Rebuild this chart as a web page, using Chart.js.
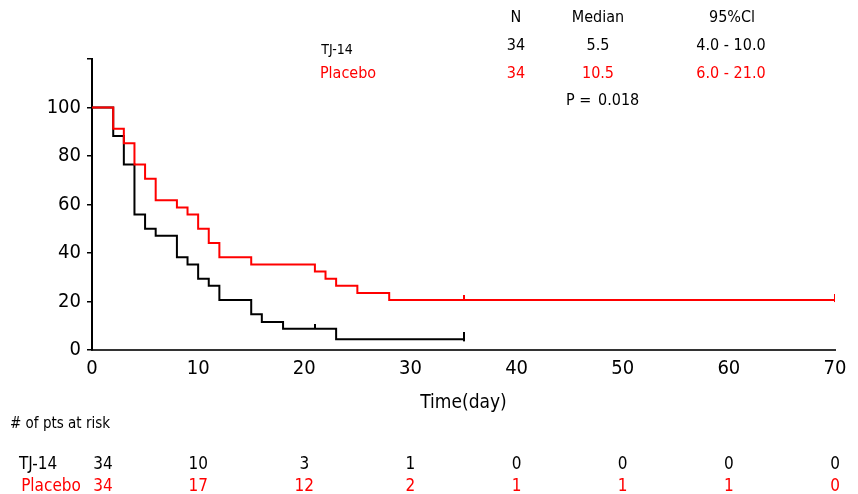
<!DOCTYPE html>
<html>
<head>
<meta charset="utf-8">
<script src="https://cdn.jsdelivr.net/npm/chart.js@4/dist/chart.umd.min.js"></script>
<style>
  html, body { margin: 0; padding: 0; background: #fff; }
  #wrap { width: 858px; height: 494px; position: relative; }
</style>
</head>
<body>
<div id="wrap"><canvas id="km"></canvas></div>
<script>
const FONT = "'Liberation Sans Narrow', 'DejaVu Sans Condensed', 'Liberation Sans', sans-serif";

// Kaplan-Meier steps (day, % event free)
const tjDays = [0, 2, 3, 4, 5, 6, 8, 9, 10, 11, 12, 15, 16, 18, 23, 35];
const tjSurv = [100, 88.2, 76.5, 55.9, 50.0, 47.1, 38.2, 35.3, 29.4, 26.5, 20.6, 14.7, 11.5, 8.8, 4.4, 4.4];
const plDays = [0, 2, 3, 4, 5, 6, 8, 9, 10, 11, 12, 15, 21, 22, 23, 25, 28, 70];
const plSurv = [100, 91.2, 85.3, 76.5, 70.6, 61.8, 58.8, 55.9, 50.0, 44.1, 38.2, 35.3, 32.4, 29.4, 26.5, 23.5, 20.6, 20.6];

// censor marks
const tjCensDays = [21, 35];
const tjCensSurv = [8.8, 4.4];
const plCensDays = [35, 70];
const plCensSurv = [20.6, 20.6];

// numbers at risk
const riskDays = [0, 10, 20, 30, 40, 50, 60, 70];
const riskTJ = [34, 10, 3, 1, 0, 0, 0, 0];
const riskPlacebo = [34, 17, 12, 2, 1, 1, 1, 0];

const xTicks = [0, 10, 20, 30, 40, 50, 60, 70];
const yTicks = [0, 20, 40, 60, 80, 100];

// summary table
const groups = ['TJ-14', 'Placebo'];
const groupN = [34, 34];
const groupMedian = ['5.5', '10.5'];
const groupCI = ['4.0 - 10.0', '6.0 - 21.0'];
const pValue = '0.018';

const RED = '#ff0000';
const BLACK = '#000000';

function tickMark(color, up, down) {
  const c = document.createElement('canvas');
  const h = Math.max(up, down) * 2;
  c.width = 2; c.height = h;
  const g = c.getContext('2d');
  g.fillStyle = color;
  g.fillRect(0, h / 2 - up, 2, up + down);
  return c;
}

const toXY = (xs, ys) => xs.map((x, i) => ({ x: x, y: ys[i] }));

const textPlugin = {
  id: 'kmText',
  afterDraw(chart) {
    const ctx = chart.ctx;
    const xs = chart.scales.x;
    ctx.save();
    ctx.textBaseline = 'middle';
    ctx.textAlign = 'center';
    const colors = [BLACK, RED];

    // header table
    ctx.font = '16px ' + FONT;
    ctx.fillStyle = BLACK;
    ctx.fillText('N', 516, 18);
    ctx.fillText('Median', 598, 18);
    ctx.fillText('95%Cl', 732, 18);
    const rowY = [46, 74];
    groups.forEach((g, i) => {
      ctx.fillStyle = colors[i];
      ctx.font = (i === 0 ? '14px ' : '16px ') + FONT;
      ctx.fillText(g, i === 0 ? 337 : 348, rowY[i] + (i === 0 ? 4 : 0));
      ctx.font = '16px ' + FONT;
      ctx.fillText(String(groupN[i]), 516, rowY[i]);
      ctx.fillText(groupMedian[i], 598, rowY[i]);
      ctx.fillText(groupCI[i], 731, rowY[i]);
    });
    ctx.fillStyle = BLACK;
    ctx.textAlign = 'left';
    ctx.fillText('P =', 566, 101);
    ctx.fillText(pValue, 598, 101);

    // at-risk table
    ctx.font = '15px ' + FONT;
    ctx.fillText('# of pts at risk', 10, 424);
    const riskRows = [riskTJ, riskPlacebo];
    const riskY = [465, 487];
    ctx.font = '17px ' + FONT;
    riskRows.forEach((row, r) => {
      ctx.fillStyle = colors[r];
      ctx.textAlign = 'center';
      ctx.fillText(groups[r], r === 0 ? 38 : 51, riskY[r]);
      row.forEach((v, i) => {
        let px = xs.getPixelForValue(riskDays[i]);
        if (i === 0) px += 11;
        ctx.fillText(String(v), px, riskY[r]);
      });
    });
    ctx.restore();
  }
};

new Chart(document.getElementById('km'), {
  type: 'line',
  data: {
    datasets: [
      {
        label: groups[0],
        data: toXY(tjDays, tjSurv),
        borderColor: BLACK,
        borderWidth: 2,
        stepped: true,
        pointRadius: 0,
        fill: false,
        order: 2
      },
      {
        label: groups[1],
        data: toXY(plDays, plSurv),
        borderColor: RED,
        borderWidth: 2,
        stepped: true,
        pointRadius: 0,
        fill: false,
        order: 1
      },
      {
        type: 'scatter',
        data: toXY(tjCensDays, tjCensSurv),
        pointStyle: [tickMark(BLACK, 5, 0), tickMark(BLACK, 7, 2)],
        showLine: false,
        order: 0
      },
      {
        type: 'scatter',
        data: toXY(plCensDays, plCensSurv),
        pointStyle: [tickMark(RED, 5, 0), tickMark(RED, 6, 2)],
        showLine: false,
        order: 0
      }
    ]
  },
  options: {
    responsive: true,
    maintainAspectRatio: false,
    animation: false,
    layout: { padding: { left: 0, top: 59, right: 23, bottom: 76 } },
    plugins: { legend: { display: false }, tooltip: { enabled: false } },
    scales: {
      x: {
        type: 'linear',
        min: 0,
        max: 70,
        afterBuildTicks: (s) => { s.ticks = xTicks.map(v => ({ value: v })); },
        afterFit: (s) => { s.height = 68; },
        grid: { display: false, drawTicks: false },
        border: { display: true, color: '#333', width: 2 },
        ticks: { color: BLACK, font: { family: FONT, size: 20 }, padding: 7 },
        title: { display: true, text: 'Time(day)', color: BLACK, font: { family: FONT, size: 19 }, padding: { top: 14 } }
      },
      y: {
        min: 0,
        max: 120,
        afterBuildTicks: (s) => { s.ticks = yTicks.concat([120]).map(v => ({ value: v })); },
        afterFit: (s) => { s.width = 92; },
        grid: { drawOnChartArea: false, drawTicks: true, tickLength: 5, color: BLACK, lineWidth: 1.5 },
        border: { display: true, color: BLACK, width: 2 },
        ticks: {
          color: BLACK,
          font: { family: FONT, size: 20 },
          padding: 6,
          callback: (v) => (v === 120 ? '' : v)
        }
      }
    }
  },
  plugins: [textPlugin]
});
</script>
</body>
</html>
